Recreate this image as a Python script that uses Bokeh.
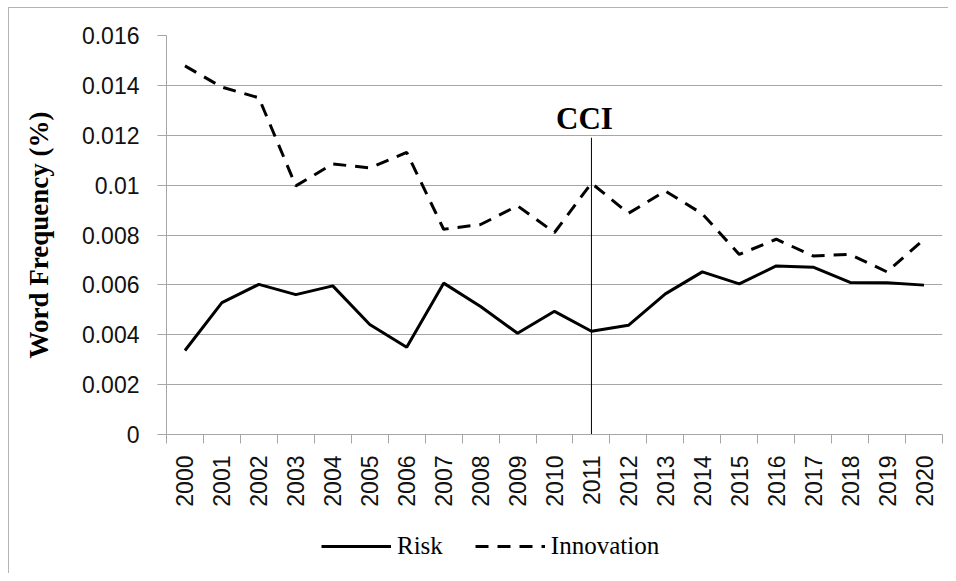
from math import pi
from bokeh.plotting import figure
from bokeh.layouts import column
from bokeh.models import (Range1d, FixedTicker, LinearAxis, Legend, LegendItem,
                          ColumnDataSource, CustomJSTickFormatter, InlineStyleSheet)
from bokeh.core.properties import value
from bokeh.embed import file_html
from bokeh.resources import INLINE

# ---- data ----
years = [2000, 2001, 2002, 2003, 2004, 2005, 2006, 2007, 2008, 2009, 2010,
         2011, 2012, 2013, 2014, 2015, 2016, 2017, 2018, 2019, 2020]
risk = [0.00337, 0.00529, 0.00602, 0.00561, 0.00596, 0.00441, 0.00350,
        0.00607, 0.00513, 0.00406, 0.00494, 0.00414, 0.00438, 0.00564,
        0.00652, 0.00604, 0.00676, 0.00671, 0.00610, 0.00609, 0.00599]
innovation = [0.01478, 0.01393, 0.01350, 0.00997, 0.01085, 0.01069, 0.01131,
              0.00823, 0.00842, 0.00917, 0.00810, 0.01008, 0.00887, 0.00976,
              0.00885, 0.00722, 0.00783, 0.00716, 0.00722, 0.00652, 0.00783]
y_ticks = [0, 0.002, 0.004, 0.006, 0.008, 0.01, 0.012, 0.014, 0.016]
y_tick_labels = ["0", "0.002", "0.004", "0.006", "0.008", "0.01", "0.012", "0.014", "0.016"]
cci_year = 2011
cci_top = 0.0119
cci_label = "CCI"
y_title = "Word Frequency (%)"
series_names = ["Risk", "Innovation"]

GRID = "#a6a6a6"
TXT = "#111111"
RISK_STYLE = dict(line_color="black", line_width=3)
INNO_STYLE = dict(line_color="black", line_width=3, line_dash="13 9")

p = figure(frame_width=776, frame_height=399, output_backend="svg",
           toolbar_location=None,
           x_range=Range1d(years[0] - 0.5, years[-1] + 0.5),
           y_range=Range1d(y_ticks[0], y_ticks[-1]),
           min_border_left=166, min_border_right=6, min_border_top=35,
           min_border_bottom=76)
p.outline_line_color = None
p.xgrid.visible = False
p.ygrid.ticker = FixedTicker(ticks=y_ticks)
p.ygrid.grid_line_color = GRID
p.ygrid.grid_line_width = 1

# y axis
ya = p.yaxis[0]
ya.ticker = FixedTicker(ticks=y_ticks)
ya.major_label_overrides = {t: l for t, l in zip(y_ticks, y_tick_labels)}
ya.axis_line_color = GRID
ya.major_tick_line_color = GRID
ya.major_tick_out = 9
ya.major_tick_in = 0
ya.minor_tick_line_color = None
ya.major_label_standoff = 18
ya.major_label_text_font = "Liberation Sans"
ya.major_label_text_font_size = "23px"
ya.major_label_text_color = TXT
ya.axis_label = y_title
ya.axis_label_text_font = "Liberation Serif"
ya.axis_label_text_font_style = "bold"
ya.axis_label_text_font_size = "27px"
ya.axis_label_text_color = "#000000"
ya.axis_label_standoff = 25

# x axis: boundary ticks
xa = p.xaxis[0]
xa.ticker = FixedTicker(ticks=[y - 0.5 for y in years] + [years[-1] + 0.5])
xa.formatter = CustomJSTickFormatter(code="return ''")
xa.axis_line_color = GRID
xa.major_tick_line_color = GRID
xa.major_tick_out = 9
xa.major_tick_in = 0
xa.minor_tick_line_color = None
xa.major_label_standoff = 0
xa.major_label_text_font_size = "1px"

# x axis: year labels
xl = LinearAxis(ticker=FixedTicker(ticks=years),
                formatter=CustomJSTickFormatter(code="return tick.toFixed(0)"),
                axis_line_color=None, major_tick_line_color=None,
                minor_tick_line_color=None, major_tick_out=0, major_tick_in=0,
                major_label_orientation=pi / 2, major_label_standoff=12,
                major_label_text_font="Liberation Sans",
                major_label_text_font_size="23px",
                major_label_text_color=TXT)
p.add_layout(xl, "below")

src = ColumnDataSource(dict(year=years, risk=risk, innovation=innovation))
p.line("year", "risk", source=src, **RISK_STYLE)
p.line("year", "innovation", source=src, **INNO_STYLE)

p.segment(x0=[cci_year], y0=[0], x1=[cci_year], y1=[cci_top],
          line_color="black", line_width=1)
p.text(x=[cci_year], y=[cci_top], text=[cci_label],
       text_font=value("Liberation Serif"), text_font_style="bold",
       text_font_size="31px", text_align="center", text_baseline="alphabetic",
       x_offset=-7, y_offset=-19, text_color="black")

# legend strip below the chart (same series, outside this strip's view)
pl = figure(width=948, height=63, output_backend="svg", toolbar_location=None,
            x_range=Range1d(0, 1), y_range=Range1d(0, 1),
            min_border=0, x_axis_location=None, y_axis_location=None)
pl.outline_line_color = None
pl.grid.visible = False
lr1 = pl.line("year", "risk", source=src, **RISK_STYLE)
lr2 = pl.line("year", "innovation", source=src, **INNO_STYLE)
legend = Legend(items=[LegendItem(label=series_names[0], renderers=[lr1]),
                       LegendItem(label=series_names[1], renderers=[lr2])],
                orientation="horizontal", location=(155, 13),
                glyph_width=70, glyph_height=20, label_standoff=6, spacing=32,
                padding=0, margin=0, border_line_color=None,
                background_fill_alpha=0, label_text_font="Liberation Serif",
                label_text_font_size="25px", label_text_color="black")
pl.add_layout(legend, "center")

layout = column(p, pl, spacing=0)
layout.stylesheets = [InlineStyleSheet(css=(
    ":host::after { content: ''; position: absolute; left: 8px; top: 7px; "
    "right: 0; bottom: 0; border-left: 1px solid #b4b4b4; "
    "border-top: 1px solid #b4b4b4; pointer-events: none; }"))]

open("out.html", "w").write(file_html(layout, INLINE))
